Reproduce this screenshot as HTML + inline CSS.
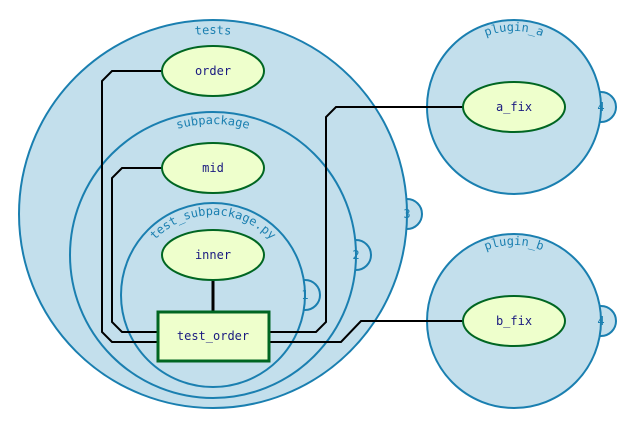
<!DOCTYPE html>
<html><head><meta charset="utf-8"><style>html,body{margin:0;background:#fff}svg{display:block}</style></head>
<body>
<svg width="644" height="421" viewBox="0 0 644 421" xmlns="http://www.w3.org/2000/svg" font-family="DejaVu Sans Mono, Liberation Mono, monospace">
<defs>
<path id="pt" d="M 33,214 A 180,180 0 0 1 393,214"/>
<path id="ps" d="M 82,255 A 131,131 0 0 1 344,255"/>
<path id="pp" d="M 133,295 A 80,80 0 0 1 293,295"/>
<path id="pa" d="M 438,107 A 76,76 0 0 1 590,107"/>
<path id="pb" d="M 438,321 A 76,76 0 0 1 590,321"/>
</defs>
<g fill="#c3dfec" stroke="#1a7fb0" stroke-width="2">
<circle cx="407" cy="214" r="15"/>
<circle cx="213" cy="214" r="194"/>
<circle cx="356" cy="255" r="15"/>
<circle cx="213" cy="255" r="143"/>
<circle cx="305" cy="295" r="15"/>
<circle cx="213" cy="295" r="92"/>
<circle cx="601" cy="107" r="15"/>
<circle cx="514" cy="107" r="87"/>
<circle cx="601" cy="321" r="15"/>
<circle cx="514" cy="321" r="87"/>
</g>
<g fill="#1a7fb0" font-size="12">
<text text-anchor="middle"><textPath href="#pt" startOffset="50%">tests</textPath></text>
<text text-anchor="middle"><textPath href="#ps" startOffset="50%">subpackage</textPath></text>
<text text-anchor="middle"><textPath href="#pp" startOffset="50%">test_subpackage.py</textPath></text>
<text text-anchor="middle"><textPath href="#pa" startOffset="50%">plugin_a</textPath></text>
<text text-anchor="middle"><textPath href="#pb" startOffset="50%">plugin_b</textPath></text>
<text x="407" y="218" text-anchor="middle">3</text>
<text x="356" y="259" text-anchor="middle">2</text>
<text x="305" y="299" text-anchor="middle">1</text>
<text x="601" y="111" text-anchor="middle">4</text>
<text x="601" y="325" text-anchor="middle">4</text>
</g>
<g fill="none" stroke="#000" stroke-width="2">
<polyline points="163,71 112,71 102,81 102,332 112,342 158,342"/>
<polyline points="163,168 122,168 112,178 112,322 122,332 158,332"/>
<polyline points="463,107 336,107 326,117 326,322 316,332 269,332"/>
<polyline points="463,321 361,321 341,342 269,342"/>
<line x1="213" y1="280" x2="213" y2="312" stroke-width="3"/>
</g>
<g fill="#eeffcc" stroke="#006622" stroke-width="2">
<ellipse cx="213" cy="71" rx="51" ry="25"/>
<ellipse cx="213" cy="168" rx="51" ry="25"/>
<ellipse cx="213" cy="255" rx="51" ry="25"/>
<ellipse cx="514" cy="107" rx="51" ry="25"/>
<ellipse cx="514" cy="321" rx="51" ry="25"/>
<rect x="158" y="312" width="111" height="49" stroke-width="3"/>
</g>
<g fill="#1a1a80" font-size="12" text-anchor="middle">
<text x="213" y="75">order</text>
<text x="213" y="172">mid</text>
<text x="213" y="259">inner</text>
<text x="514" y="111">a_fix</text>
<text x="514" y="325">b_fix</text>
<text x="213" y="340">test_order</text>
</g>
</svg>
</body></html>
